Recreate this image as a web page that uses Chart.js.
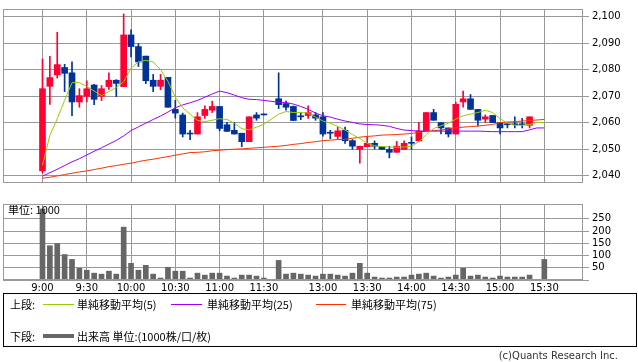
<!DOCTYPE html>
<html lang="ja">
<head>
<meta charset="utf-8">
<title>株価チャート 5分足</title>
<script src="https://cdn.jsdelivr.net/npm/chart.js@4.4.1/dist/chart.umd.min.js"></script>
<style>
  html, body { margin: 0; padding: 0; background: #fff; }
  body { width: 638px; height: 362px; position: relative; overflow: hidden;
         font-family: "Noto Sans CJK JP", "DejaVu Sans", sans-serif; color: #000; }
  #priceChart { position: absolute; left: 0; top: 0; }
  #volumeChart { position: absolute; left: 0; top: 195px; }
  #legend { position: absolute; left: 3px; top: 293px; width: 632px; height: 52px;
            border: 1px solid #000; font-size: 11px; }
  #legend span { position: absolute; line-height: 14px; white-space: nowrap; }
  #legend .swatch { height: 1px; line-height: 1px; }
  #copyright { position: absolute; right: 20px; top: 350px; font-size: 10px; color: #333;
               font-family: "DejaVu Sans", sans-serif; }
</style>
</head>
<body>
<canvas id="priceChart" width="638" height="192"></canvas>
<canvas id="volumeChart" width="638" height="100"></canvas>
<div id="legend"></div>
<div id="copyright">(c)Quants Research Inc.</div>

<script>
// ---------------------------
// データ (5分足)
// ---------------------------
const times = [
  '9:00', '9:05', '9:10', '9:15', '9:20', '9:25', '9:30', '9:35', '9:40', '9:45', '9:50', '9:55',
  '10:00', '10:05', '10:10', '10:15', '10:20', '10:25', '10:30', '10:35', '10:40', '10:45', '10:50', '10:55',
  '11:00', '11:05', '11:10', '11:15', '11:20', '11:25', '11:30', '',
  '12:30', '12:35', '12:40', '12:45', '12:50', '12:55',
  '13:00', '13:05', '13:10', '13:15', '13:20', '13:25', '13:30', '13:35', '13:40', '13:45', '13:50', '13:55',
  '14:00', '14:05', '14:10', '14:15', '14:20', '14:25', '14:30', '14:35', '14:40', '14:45', '14:50', '14:55',
  '15:00', '15:05', '15:10', '15:15', '15:20', '15:25', '15:30'
];
const timeTicks = ['9:00', '9:30', '10:00', '10:30', '11:00', '11:30', '13:00', '13:30', '14:00', '14:30', '15:00', '15:30'];

const opens = [
  2041.8, 2073.7, 2078.0, 2080.8, 2078.8, 2067.8, 2069.9, 2074.2, 2069.9, 2073.6, 2076.0, 2073.6,
  2093.1, 2088.7, 2085.1, 2076.0, 2073.7, 2077.1, 2065.0, 2062.9, 2055.7, 2055.7, 2062.7, 2064.7,
  2066.1, 2059.2, 2057.1, 2056.0, 2052.8, 2062.9, 2062.9, null,
  2069.0, 2067.2, 2066.1, 2062.2, 2062.7, 2062.9,
  2062.2, 2056.0, 2054.8, 2057.1, 2053.2, 2049.9, 2050.9, 2052.2, 2050.9, 2049.9, 2048.8, 2049.9,
  2052.2, 2053.1, 2056.9, 2063.8, 2060.0, 2058.0, 2055.7, 2067.8, 2069.0, 2065.0, 2061.3, 2062.7,
  2060.0, 2059.2, 2059.2, 2059.2, 2059.0, null, null
];
const highs = [
  2084.0, 2085.0, 2094.1, 2082.0, 2082.9, 2072.8, 2075.8, 2074.5, 2074.0, 2078.8, 2076.2, 2101.0,
  2095.0, 2089.8, 2085.1, 2078.2, 2078.2, 2077.1, 2068.4, 2063.6, 2057.1, 2063.8, 2066.3, 2068.1,
  2066.1, 2060.1, 2060.1, 2056.0, 2062.2, 2063.8, 2062.9, null,
  2078.8, 2068.1, 2066.3, 2063.8, 2066.3, 2063.8,
  2063.8, 2057.1, 2058.3, 2058.3, 2053.6, 2051.1, 2054.6, 2053.1, 2051.1, 2051.1, 2052.9, 2053.1,
  2054.6, 2060.1, 2063.8, 2065.0, 2060.0, 2058.0, 2067.7, 2071.9, 2070.6, 2065.0, 2062.9, 2062.7,
  2060.0, 2060.0, 2062.2, 2061.6, 2062.2, null, null
];
const lows = [
  2041.0, 2066.9, 2076.8, 2071.7, 2062.6, 2065.8, 2067.8, 2066.8, 2068.3, 2072.5, 2069.8, 2073.6,
  2084.8, 2081.2, 2074.7, 2071.7, 2072.4, 2065.8, 2061.7, 2054.6, 2053.6, 2055.7, 2061.6, 2063.8,
  2056.9, 2056.7, 2055.7, 2050.9, 2052.8, 2060.9, 2062.9, null,
  2065.3, 2064.7, 2060.8, 2061.1, 2061.6, 2060.9,
  2054.9, 2053.9, 2053.7, 2052.2, 2050.0, 2044.7, 2050.9, 2050.0, 2049.9, 2046.7, 2048.8, 2049.9,
  2049.9, 2053.1, 2056.9, 2060.9, 2055.7, 2054.6, 2055.7, 2065.8, 2065.0, 2058.8, 2060.0, 2060.0,
  2055.7, 2058.0, 2058.0, 2058.0, 2058.0, null, null
];
const closes = [
  2072.8, 2077.0, 2081.9, 2078.6, 2067.8, 2070.2, 2072.8, 2068.8, 2072.8, 2076.0, 2074.8, 2093.1,
  2088.7, 2082.9, 2075.8, 2073.7, 2076.0, 2065.8, 2063.6, 2055.7, 2055.7, 2062.2, 2065.0, 2066.1,
  2057.8, 2056.7, 2055.7, 2052.8, 2062.2, 2061.7, 2062.9, null,
  2066.8, 2065.8, 2060.8, 2062.2, 2063.8, 2061.7,
  2055.7, 2056.0, 2056.9, 2053.2, 2051.1, 2051.1, 2052.2, 2051.1, 2049.9, 2048.8, 2051.1, 2052.2,
  2052.2, 2056.9, 2063.8, 2060.9, 2058.0, 2055.7, 2066.9, 2069.0, 2065.0, 2060.9, 2062.2, 2060.0,
  2058.0, 2059.2, 2059.2, 2059.2, 2062.2, null, null
];

// 移動平均 (チャートから読み取り)
const ma5 = [
  2043.9, 2055.2, 2061.5, 2068.4, 2075.1, 2075.1, 2073.7, 2071.9, 2070.2, 2071.7, 2073.3, 2075.4,
  2080.6, 2082.9, 2083.5, 2082.9, 2080.0, 2075.6, 2069.6, 2065.6, 2063.2, 2060.8, 2060.4, 2060.9,
  2061.5, 2061.2, 2059.8, 2057.7, 2057.3, 2058.3, 2059.4, null,
  2063.2, 2064.2, 2063.8, 2063.8, 2063.6, 2062.1,
  2060.6, 2059.8, 2058.6, 2057.2, 2055.5, 2054.0, 2052.2, 2051.3, 2051.0, 2050.8, 2050.7, 2050.8,
  2051.1, 2052.8, 2055.5, 2057.8, 2058.8, 2059.8, 2061.3, 2062.6, 2063.2, 2063.8, 2064.7, 2063.8,
  2061.5, 2059.8, 2059.0, 2059.0, 2059.3, 2060.0, 2060.0
];
const ma25 = [
  2039.8, 2041.1, 2042.4, 2043.8, 2045.2, 2046.4, 2047.8, 2049.2, 2050.5, 2051.9, 2053.3, 2055.0,
  2057.0, 2058.4, 2059.8, 2061.2, 2062.5, 2064.0, 2065.6, 2066.7, 2067.5, 2068.4, 2069.6, 2070.8,
  2071.9, 2071.3, 2070.4, 2069.4, 2068.8, 2068.7, 2068.4, null,
  2067.7, 2067.6, 2067.0, 2066.1, 2065.0, 2063.6,
  2062.6, 2062.1, 2061.3, 2060.6, 2060.1, 2059.5, 2059.3, 2059.2, 2059.0, 2058.6, 2057.8, 2057.2,
  2057.0, 2056.8, 2056.8, 2056.8, 2056.8, 2056.8, 2056.8, 2056.8, 2056.8, 2056.8, 2056.7, 2056.6,
  2056.6, 2056.6, 2056.6, 2056.6, 2057.3, 2058.0, 2058.0
];
const ma75 = [
  2039.0, 2039.4, 2039.9, 2040.4, 2040.9, 2041.4, 2041.8, 2042.3, 2042.8, 2043.4, 2043.8, 2044.3,
  2044.7, 2045.3, 2045.8, 2046.2, 2046.7, 2047.2, 2047.7, 2048.2, 2048.7, 2048.8, 2049.0, 2049.4,
  2049.6, 2049.8, 2050.0, 2050.1, 2050.3, 2050.5, 2050.7, null,
  2051.1, 2051.4, 2051.8, 2052.1, 2052.5, 2052.8,
  2053.2, 2053.4, 2053.6, 2053.7, 2054.1, 2054.5, 2054.8, 2055.0, 2055.3, 2055.4, 2055.5, 2055.7,
  2055.9, 2056.4, 2056.8, 2057.0, 2057.2, 2057.6, 2058.0, 2058.3, 2058.5, 2058.7, 2059.0, 2059.3,
  2060.0, 2060.2, 2060.4, 2060.6, 2060.8, 2061.0, 2061.2
];

// 出来高 (単位: 1000)
const volumes = [
  290, 140, 149, 104, 84, 48, 40, 28, 24, 36, 24, 216,
  68, 40, 60, 24, 8, 52, 36, 36, 8, 28, 20, 28,
  28, 16, 8, 20, 20, 16, 8, null,
  80, 24, 28, 24, 20, 16,
  24, 24, 20, 16, 28, 68, 28, 12, 8, 8, 12, 12,
  20, 24, 28, 16, 8, 12, 20, 48, 16, 20, 12, 8,
  16, 12, 12, 12, 20, null, 84
];

const priceTicks = [2040, 2050, 2060, 2070, 2080, 2090, 2100];
const volumeTicks = [0, 50, 100, 150, 200, 250];

// ---------------------------
// 見た目の設定
// ---------------------------
const UP_COLOR = '#ff0033';
const DOWN_COLOR = '#003399';
const MA_COLORS = ['#99cc00', '#9900ff', '#ff3300'];
const VOL_COLOR = '#666666';
const GRID_COLOR = '#999999';
const NUM_FONT = { family: 'DejaVu Sans', size: 10 };

// 横軸の範囲 (9:00 の左と 15:30 の右に余白)
const X_MIN = -5.35;
const X_MAX = 73.24;
const tickIdx = timeTicks.map(t => times.indexOf(t));

const candleColor = i => (closes[i] > opens[i] ? UP_COLOR : DOWN_COLOR);

// プロット枠
const framePlugin = {
  id: 'frame',
  afterDraw(chart) {
    const a = chart.chartArea;
    const ctx = chart.ctx;
    ctx.save();
    ctx.strokeStyle = GRID_COLOR;
    ctx.lineWidth = 1;
    ctx.strokeRect(Math.round(a.left) + 0.5, Math.round(a.top) + 0.5,
      Math.round(a.right - a.left) - 1, Math.round(a.bottom - a.top) - 1);
    ctx.restore();
  }
};

function xScale(showLabels, axisHeight) {
  return {
    type: 'linear',
    min: X_MIN,
    max: X_MAX,
    offset: false,
    grid: { color: GRID_COLOR, drawTicks: false, offset: false },
    border: { display: false },
    ticks: {
      display: showLabels,
      autoSkip: false,
      maxRotation: 0,
      padding: 2,
      color: '#000',
      font: NUM_FONT,
      callback: v => times[v]
    },
    afterBuildTicks: s => { s.ticks = tickIdx.map(v => ({ value: v })); },
    afterFit: s => { s.height = axisHeight; }
  };
}

function yScale(min, max, ticks, fmt) {
  return {
    position: 'right',
    min: min,
    max: max,
    grid: { color: GRID_COLOR, tickLength: 6 },
    border: { display: false },
    ticks: { color: '#000', font: NUM_FONT, padding: 3, callback: fmt },
    afterBuildTicks: s => { s.ticks = ticks.map(v => ({ value: v })); },
    afterFit: s => { s.width = 55; }
  };
}

// ---------------------------
// 上段: ローソク足 + 移動平均
// ---------------------------
const bodies = [];
const wicks = [];
opens.forEach((o, i) => {
  if (o === null) return;
  bodies.push({ x: i, y: [o, closes[i]] });
  wicks.push({ x: i, y: [lows[i], highs[i]] });
});

const maLine = (values, color) => ({
  type: 'line',
  data: values.map((v, i) => ({ x: i, y: v })),
  borderColor: color,
  borderWidth: 1,
  pointRadius: 0,
  tension: 0,
  spanGaps: true,
  order: 0
});

new Chart(document.getElementById('priceChart'), {
  type: 'bar',
  data: {
    datasets: [
      maLine(ma5, MA_COLORS[0]),
      maLine(ma25, MA_COLORS[1]),
      maLine(ma75, MA_COLORS[2]),
      {
        data: bodies,
        backgroundColor: c => candleColor(c.raw.x),
        barThickness: 6,
        minBarLength: 1,
        grouped: false,
        order: 1
      },
      {
        data: wicks,
        backgroundColor: c => candleColor(c.raw.x),
        barThickness: 1,
        minBarLength: 1,
        grouped: false,
        order: 2
      }
    ]
  },
  options: {
    responsive: false,
    animation: false,
    devicePixelRatio: 1,
    layout: { padding: { left: 3, top: 1, right: 0, bottom: 0 } },
    plugins: { legend: { display: false }, tooltip: { enabled: false } },
    scales: {
      x: xScale(false, 2),
      y: yScale(2037.22, 2102.88, priceTicks, v => v.toLocaleString('en-US'))
    }
  },
  plugins: [framePlugin]
});

// ---------------------------
// 下段: 出来高
// ---------------------------
const unitPlugin = {
  id: 'unitLabel',
  afterDatasetsDraw(chart) {
    const ctx = chart.ctx;
    ctx.save();
    ctx.font = '11px "Noto Sans CJK JP"';
    ctx.fillStyle = '#000';
    ctx.textBaseline = 'middle';
    ctx.fillText('単位: 1000', chart.chartArea.left + 5, chart.chartArea.top + 6);
    ctx.restore();
  }
};

new Chart(document.getElementById('volumeChart'), {
  type: 'bar',
  data: {
    datasets: [{
      data: volumes.map((v, i) => ({ x: i, y: v })).filter(p => p.y !== null),
      backgroundColor: VOL_COLOR,
      barThickness: 5
    }]
  },
  options: {
    responsive: false,
    animation: false,
    devicePixelRatio: 1,
    layout: { padding: { left: 3, top: 8, right: 0, bottom: 0 } },
    plugins: { legend: { display: false }, tooltip: { enabled: false } },
    scales: {
      x: xScale(true, 15),
      y: yScale(0, 310.5, volumeTicks, v => (v === 0 ? '' : v))
    }
  },
  plugins: [framePlugin, unitPlugin]
});

// ---------------------------
// 凡例
// ---------------------------
const legendRows = [
  { top: 3, head: '上段:', items: [
    { left: 39, width: 31, color: MA_COLORS[0], text: '単純移動平均(5)', textLeft: 73 },
    { left: 167, width: 31, color: MA_COLORS[1], text: '単純移動平均(25)', textLeft: 203 },
    { left: 312, width: 30, color: MA_COLORS[2], text: '単純移動平均(75)', textLeft: 347 }
  ] },
  { top: 35, head: '下段:', items: [
    { left: 39, width: 31, color: VOL_COLOR, text: '出来高 単位:(1000株/口/枚)', textLeft: 73, thick: 4 }
  ] }
];

const legend = document.getElementById('legend');
legendRows.forEach(row => {
  const head = document.createElement('span');
  head.textContent = row.head;
  head.style.left = '6px';
  head.style.top = row.top + 'px';
  legend.appendChild(head);

  row.items.forEach(it => {
    const sw = document.createElement('span');
    const h = it.thick || 1;
    sw.className = 'swatch';
    sw.style.left = it.left + 'px';
    sw.style.width = it.width + 'px';
    sw.style.height = h + 'px';
    sw.style.top = (row.top + 7 - Math.floor(h / 2)) + 'px';
    sw.style.background = it.color;
    legend.appendChild(sw);

    const label = document.createElement('span');
    label.textContent = it.text;
    label.style.left = it.textLeft + 'px';
    label.style.top = row.top + 'px';
    legend.appendChild(label);
  });
});
</script>
</body>
</html>
